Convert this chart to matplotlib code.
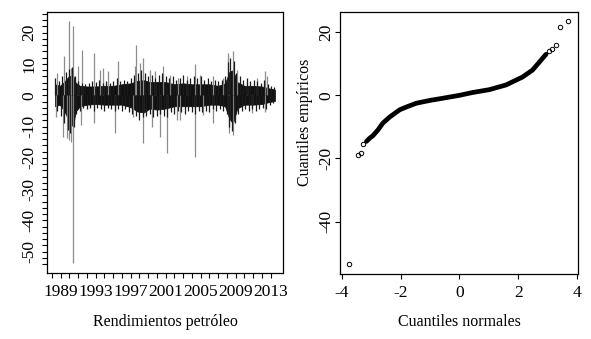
import numpy as np
import matplotlib
matplotlib.use("Agg")
import matplotlib.pyplot as plt

plt.rcParams['font.family'] = ['Liberation Serif', 'DejaVu Serif']
plt.rcParams['font.size'] = 11.5
plt.rcParams['axes.unicode_minus'] = False

# left panel: oil returns
# dark core of the series (year, upper edge, lower edge)
band_years = [1988.35, 1988.9, 1989.4, 1989.9, 1990.4, 1990.7, 1991.2, 1992.0,
              1993.0, 1994.0, 1995.0, 1996.0, 1997.0, 1997.8, 1998.5, 1999.2,
              2000.0, 2001.0, 2002.0, 2003.0, 2004.0, 2005.0, 2006.0, 2007.0,
              2007.8, 2008.3, 2008.7, 2009.2, 2010.0, 2011.0, 2012.0, 2012.8, 2013.5]
band_hi = [3.5, 3.0, 4.2, 6.0, 6.5, 4.0, 3.0, 2.8,
           2.8, 3.0, 3.0, 3.5, 3.8, 4.6, 4.8, 4.2,
           4.2, 4.2, 3.5, 3.8, 3.5, 3.5, 3.5, 3.0,
           3.8, 7.5, 8.0, 4.2, 3.0, 3.0, 2.8, 2.2, 1.8]
band_lo = [-3.5, -3.0, -5.0, -8.0, -10.0, -5.2, -3.5, -3.0,
           -2.8, -3.0, -3.0, -3.0, -3.8, -5.2, -5.5, -4.2,
           -4.6, -4.2, -3.5, -3.5, -3.5, -3.5, -3.0, -3.0,
           -3.5, -7.5, -9.0, -4.2, -3.0, -3.0, -2.8, -2.2, -1.8]

# dark hairs along the edge of the band
hair_up_years = [1988.4, 1988.8, 1989.2, 1989.6, 1990.0, 1990.3, 1990.6, 1991.0,
                 1991.4, 1991.8, 1992.2, 1992.6, 1993.0, 1993.4, 1993.8, 1994.2,
                 1994.6, 1995.0, 1995.4, 1995.8, 1996.2, 1996.6, 1997.0, 1997.4,
                 1997.8, 1998.2, 1998.6, 1999.0, 1999.4, 1999.8, 2000.2, 2000.6,
                 2001.0, 2001.4, 2001.8, 2002.2, 2002.6, 2003.0, 2003.4, 2003.8,
                 2004.2, 2004.6, 2005.0, 2005.4, 2005.8, 2006.2, 2006.6, 2007.0,
                 2007.4, 2007.8, 2008.1, 2008.4, 2008.8, 2009.1, 2009.5, 2009.9,
                 2010.3, 2010.7, 2011.1, 2011.5, 2011.9, 2012.3, 2012.7, 2013.1, 2013.4]
hair_up_vals = [5.5, 4.5, 6.0, 7.5, 8.5, 9.0, 6.0, 4.5,
                4.0, 3.5, 3.8, 4.5, 4.2, 5.0, 4.0, 4.5,
                3.8, 4.5, 5.5, 4.5, 5.0, 4.5, 5.5, 6.5,
                7.0, 8.0, 7.0, 6.0, 6.5, 5.5, 6.5, 7.0,
                6.0, 5.5, 6.0, 5.0, 5.5, 6.5, 5.0, 5.5,
                6.0, 5.5, 6.0, 5.0, 5.5, 4.5, 5.0, 4.5,
                5.0, 6.0, 10.5, 12.0, 11.0, 7.0, 6.0, 5.0,
                5.5, 4.5, 5.0, 4.5, 4.0, 5.0, 3.5, 3.0, 2.5]
hair_dn_years = [1988.6, 1989.0, 1989.4, 1989.8, 1990.1, 1990.5, 1990.8, 1991.2,
                 1991.6, 1992.0, 1992.4, 1992.8, 1993.2, 1993.6, 1994.0, 1994.4,
                 1994.8, 1995.2, 1995.6, 1996.0, 1996.4, 1996.8, 1997.2, 1997.6,
                 1998.0, 1998.4, 1998.8, 1999.2, 1999.6, 2000.0, 2000.4, 2000.8,
                 2001.2, 2001.6, 2002.0, 2002.4, 2002.8, 2003.2, 2003.6, 2004.0,
                 2004.4, 2004.8, 2005.2, 2005.6, 2006.0, 2006.4, 2006.8, 2007.2,
                 2007.6, 2008.0, 2008.3, 2008.6, 2008.9, 2009.3, 2009.7, 2010.1,
                 2010.5, 2010.9, 2011.3, 2011.7, 2012.1, 2012.5, 2012.9, 2013.3]
hair_dn_vals = [-5.0, -6.5, -9.0, -11.0, -12.0, -10.0, -6.0, -5.0,
                -4.0, -4.5, -4.0, -5.0, -4.0, -4.5, -5.0, -4.0,
                -4.5, -5.0, -4.5, -5.0, -4.5, -5.5, -6.0, -6.5,
                -8.0, -7.0, -6.5, -6.0, -7.0, -6.5, -6.0, -6.5,
                -7.0, -5.5, -6.0, -5.0, -5.5, -6.0, -5.0, -5.5,
                -6.0, -5.0, -5.5, -5.0, -5.5, -4.5, -5.0, -4.5,
                -5.0, -6.0, -10.0, -11.5, -9.0, -6.0, -5.0, -4.5,
                -5.0, -4.5, -5.0, -4.5, -4.0, -4.5, -3.0, -2.5]

# isolated spikes (year, return)
spike_years = [1988.54, 1989.42, 1989.95, 1990.44, 1990.18, 1991.02, 1991.40, 1992.85,
               1993.50, 1993.87, 1994.45, 1995.59, 1997.50, 1997.61, 1998.07, 1998.45,
               1999.21, 1999.79, 2000.67, 2001.50, 2002.45, 2003.41, 2004.36, 2004.93,
               2006.46, 2007.60, 2008.17, 2008.67, 2009.13, 2010.28, 2011.42, 2012.37,
               2012.56,
               1988.46, 1989.30, 1989.69, 1989.99, 1990.18, 1990.44, 1991.32, 1992.85,
               1995.21, 1997.31, 1998.38, 1999.41, 2000.36, 2001.12, 2002.27, 2002.65,
               2004.36, 2005.31, 2006.46, 2008.29, 2008.67, 2010.85, 2012.37]
spike_vals = [7.0, 12.6, 23.8, 22.0, 8.6, 9.2, 14.5, 13.4,
              8.1, 8.6, 7.6, 10.8, 9.4, 15.9, 10.2, 11.8,
              8.1, 7.6, 9.2, 6.5, 5.4, 6.0, 9.9, 6.5,
              6.0, 5.4, 13.4, 14.0, 8.1, 4.4, 5.4, 7.9,
              6.0,
              -6.8, -13.2, -13.7, -14.3, -14.8, -53.7, -9.5, -9.0,
              -12.1, -6.8, -15.3, -10.0, -13.2, -18.5, -7.9, -7.9,
              -19.6, -6.3, -9.0, -12.1, -12.7, -5.8, -5.2]

year_labels = [1989, 1993, 1997, 2001, 2005, 2009, 2013]

# right panel: normal QQ plot
qq_theo = [-3.77, -3.46, -3.34, -3.29, -3.17, -3.05, -2.95, -2.78, -2.61, -2.38,
           -2.04, -1.81, -1.47, -1.0, -0.68, 0.0, 0.45, 1.02, 1.59, 2.15,
           2.49, 2.72, 2.95, 3.06, 3.17, 3.29, 3.42, 3.70]
qq_emp = [-53.5, -19.0, -18.2, -15.4, -14.6, -13.5, -12.8, -11.0, -8.8, -6.9,
          -4.6, -3.7, -2.5, -1.6, -1.1, 0.0, 0.9, 1.8, 3.3, 5.8,
          8.0, 10.5, 13.0, 14.0, 14.7, 15.8, 21.7, 23.6]

fig = plt.figure(figsize=(5.91, 3.39), dpi=100)
ax1 = fig.add_axes([47 / 591, 1 - 273 / 339, 236 / 591, 261 / 339])
ax2 = fig.add_axes([340 / 591, 1 - 274 / 339, 238 / 591, 262 / 339])

# --- returns series
ax1.vlines(spike_years, 0, spike_vals, color='0.55', lw=0.9)
ax1.vlines(hair_up_years, 0, hair_up_vals, color='#1a1a1a', lw=0.9)
ax1.vlines(hair_dn_years, 0, hair_dn_vals, color='#1a1a1a', lw=0.9)
ax1.fill_between(band_years, band_lo, band_hi, color='#111111', lw=0.6, edgecolor='#111111')
ax1.set_xlim(1987.43, 2014.43)
ax1.set_ylim(-56.8, 26.6)
ax1.set_xticks(year_labels)
ax1.set_xticks(np.arange(1988, 2014), minor=True)
ax1.set_yticks(np.arange(-50, 21, 10))
ax1.set_yticks(np.arange(-54, 27, 2), minor=True)
ax1.set_xlabel('Rendimientos petróleo', va='center')
ax1.xaxis.set_label_coords(0.5, -0.186)

# --- QQ plot
qt = np.array(qq_theo)
qe = np.array(qq_emp)
dense = (qt > -3.2) & (qt < 3.0)
ax2.plot(qt[dense], qe[dense], color='black', lw=3.4, solid_capstyle='round')
tails = ~dense
ax2.plot(qt[tails], qe[tails], 'o', ms=3.2, mfc='none', mec='black', mew=0.7)
ax2.set_xlim(-4.07, 4.04)
ax2.set_ylim(-56.6, 26.4)
ax2.set_xticks([-4, -2, 0, 2, 4])
ax2.set_yticks([-40, -20, 0, 20])
ax2.set_xlabel('Cuantiles normales', va='center')
ax2.xaxis.set_label_coords(0.5, -0.182)
ax2.set_ylabel('Cuantiles empíricos', va='center')
ax2.yaxis.set_label_coords(-0.147, 0.58)

for ax in (ax1, ax2):
    for s in ax.spines.values():
        s.set_linewidth(0.9)
    ax.tick_params(which='both', direction='out', length=3.6, width=0.8, labelsize=12.5)
    ax.tick_params(axis='x', pad=4.0)
    ax.tick_params(axis='y', labelrotation=90)
    for lab in ax.get_yticklabels():
        lab.set_va('center')
ax1.tick_params(axis='y', pad=3.5)
ax2.tick_params(axis='y', pad=0.5)

fig.savefig('out.png', dpi=100)
